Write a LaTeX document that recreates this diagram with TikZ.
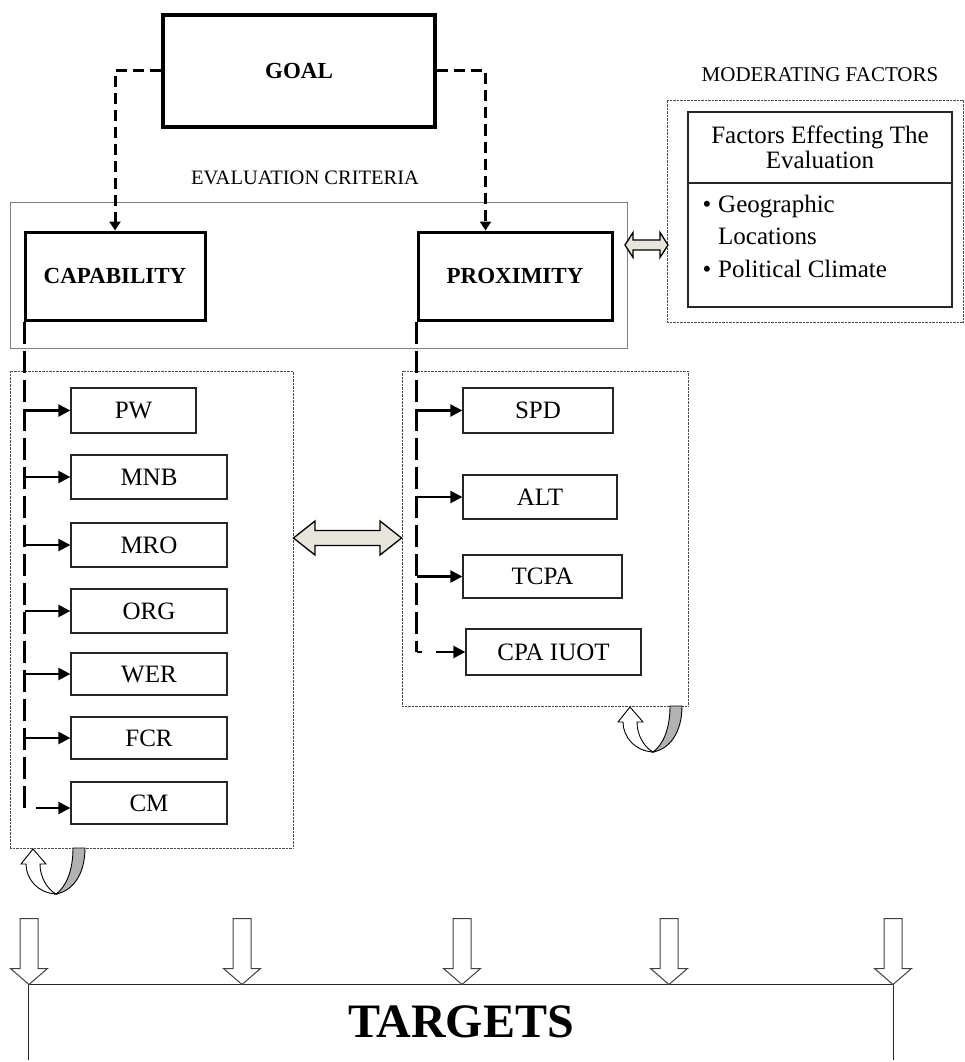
\documentclass[tikz,border=0pt]{standalone}
\usepackage{fontspec}
\setmainfont{Liberation Serif}
\usetikzlibrary{arrows.meta,calc}
\definecolor{arrowfill}{HTML}{E8E6DC}

\tikzset{
  % white U-turn ribbon with a grey back side, origin at the tip of the head
  uturn/.pic={
    \draw[line width=0.9pt, fill=black!30]
      (40,-1) -- (52,-1) .. controls (52,25) and (40,42) .. (23,45)
      .. controls (33,38) and (40,22) .. (40,-1) -- cycle;
    \draw[line width=0.9pt, fill=white]
      (23,45) .. controls (5,44) and (-7,30) .. (-7,15) -- (-12,15) -- (0,0)
      -- (13,15) -- (7,15) .. controls (7,28) and (14,40) .. (23,45) -- cycle;
  },
  % hollow block arrow pointing down, origin at the tip
  downblock/.pic={
    \draw[line width=1pt, draw=black!75, fill=white]
      (-9,-66) -- (9,-66) -- (9,-16) -- (18.5,-16) -- (0,0)
      -- (-18.5,-16) -- (-9,-16) -- cycle;
  }
}

\begin{document}
\begin{tikzpicture}[x=1pt,y=-1pt,
  box/.style={draw=black!85, line width=1.3pt, rectangle, inner sep=0pt,
    font=\fontsize{25}{25}\selectfont},
  mainbox/.style={draw=black, line width=3pt, rectangle, inner sep=0pt,
    font=\bfseries\fontsize{23}{23}\selectfont},
  group/.style={draw=black!70, dash pattern=on 0.7pt off 0.7pt,
    line width=0.9pt, rectangle, inner sep=0pt},
  caption/.style={font=\fontsize{20.5}{20.5}\selectfont, inner sep=0pt},
  trunk/.style={line width=3pt, dash pattern=on 22pt off 7pt},
  stub/.style={line width=2.4pt, -{Triangle[length=12pt,width=12pt]}},
  goallink/.style={line width=3pt, dash pattern=on 11pt off 6pt,
    -{Triangle[length=9pt,width=11pt]}},
  blockarrow/.style={draw=black, line width=1.3pt, fill=arrowfill},
  listtext/.style={font=\fontsize{25}{25}\selectfont, inner sep=0pt}
]
\useasboundingbox (0,0) rectangle (964,1062);

% goal and the two criteria
\node[mainbox, line width=4pt, minimum width=272, minimum height=112] (goal) at (299,71) {GOAL};
\node[caption] (evallbl) at (305,178) {EVALUATION CRITERIA};
\node[draw=black!50, line width=1pt, rectangle, minimum width=617, minimum height=146] (evalgrp) at (318.5,275) {};
\node[mainbox, minimum width=180, minimum height=88] (cap) at (115,276) {CAPABILITY};
\node[mainbox, minimum width=194, minimum height=88] (prox) at (515,276) {PROXIMITY};

\draw[goallink] (goal.west) -| (cap.north);
\draw[goallink] (goal.east) -| ([xshift=69pt]prox.north west);

% moderating factors
\node[caption, font=\fontsize{21}{21}\selectfont] (modlbl) at (820,75) {MODERATING FACTORS};
\node[group, minimum width=296, minimum height=222] (modgrp) at (815,211) {};
\node[draw=black!85, line width=1.3pt, rectangle, minimum width=264, minimum height=195] (modbox) at (820,209.5) {};
\draw[black!85, line width=1.3pt] (modbox.west |- 0,183) -- (modbox.east |- 0,183);
\node[listtext, anchor=base] (modhead) at (820,143) {Factors Effecting The};
\node[listtext, anchor=base] (modhead2) at (820,168) {Evaluation};
\node[listtext, anchor=base] (b1) at (707,212) {•};
\node[listtext, anchor=base west] (geo) at (718,212) {Geographic};
\node[listtext, anchor=base west] (loc) at (718,244) {Locations};
\node[listtext, anchor=base] (b2) at (707,277) {•};
\node[listtext, anchor=base west] (pol) at (718,277) {Political Climate};

% link between criteria and moderating factors
\draw[blockarrow] (625,245) -- (633,232.5) -- (633,240) -- (660,240) -- (660,232.5)
  -- (668,245) -- (660,257.5) -- (660,250) -- (633,250) -- (633,257.5) -- cycle;

% capability sub-criteria
\node[group, minimum width=283, minimum height=477] (capgrp) at (151.5,609.5) {};
\node[box, minimum width=125, minimum height=45] (pw)  at (133.5,410.5) {PW};
\node[box, minimum width=156, minimum height=44] (mnb) at (149,477) {MNB};
\node[box, minimum width=156, minimum height=44] (mro) at (149,545) {MRO};
\node[box, minimum width=156, minimum height=44] (org) at (149,611) {ORG};
\node[box, minimum width=156, minimum height=42] (wer) at (149,674) {WER};
\node[box, minimum width=156, minimum height=42] (fcr) at (149,738) {FCR};
\node[box, minimum width=156, minimum height=42] (cm)  at (149,803) {CM};

\draw[trunk] ([xshift=1pt]cap.south west) -- ([xshift=1pt]cap.south west |- 0,808);
\foreach \n in {pw,mnb,mro,org,wer,fcr}
  \draw[stub] ([xshift=1pt]cap.south west |- \n.west) -- (\n.west);
\draw[stub] ([xshift=12pt]cap.south west |- 0,808) -- (cm.west |- 0,808);

% proximity sub-criteria
\node[group, minimum width=286, minimum height=335] (proxgrp) at (545,538.5) {};
\node[box, minimum width=150, minimum height=45] (spd)  at (538,410.5) {SPD};
\node[box, minimum width=154, minimum height=44] (alt)  at (540,497) {ALT};
\node[box, minimum width=159, minimum height=43] (tcpa) at (542.5,576.5) {TCPA};
\node[box, minimum width=175, minimum height=46] (cpa)  at (553.5,652) {CPA IUOT};

\draw[trunk] (prox.south west) -- (prox.south west |- cpa.west);
\foreach \n in {spd,alt,tcpa}
  \draw[stub] (prox.south west |- \n.west) -- (\n.west);
\draw[line width=2.8pt] (prox.south west |- cpa.west) -- ++(5,0);
\draw[stub] ([xshift=19pt]prox.south west |- cpa.west) -- (cpa.west);

% link between the two groups
\draw[blockarrow] (capgrp.east |- 0,538) -- (315,521) -- (315,530.5) -- (380,530.5) -- (380,521)
  -- (proxgrp.west |- 0,538) -- (380,555) -- (380,545.5) -- (315,545.5) -- (315,555) -- cycle;

% feedback loops
\pic at (33,849) {uturn};
\pic at (630,707) {uturn};

% targets
\node[minimum width=864, minimum height=75, inner sep=0pt,
  font=\bfseries\fontsize{48}{48}\selectfont] (tg) at (461,1022) {TARGETS};
\draw[line width=1.3pt, black!85] (tg.south west) -- (tg.north west) -- (tg.north east) -- (tg.south east);
\foreach \x in {29,242,462,669,893}
  \pic at (\x,984.5) {downblock};
\end{tikzpicture}
\end{document}
